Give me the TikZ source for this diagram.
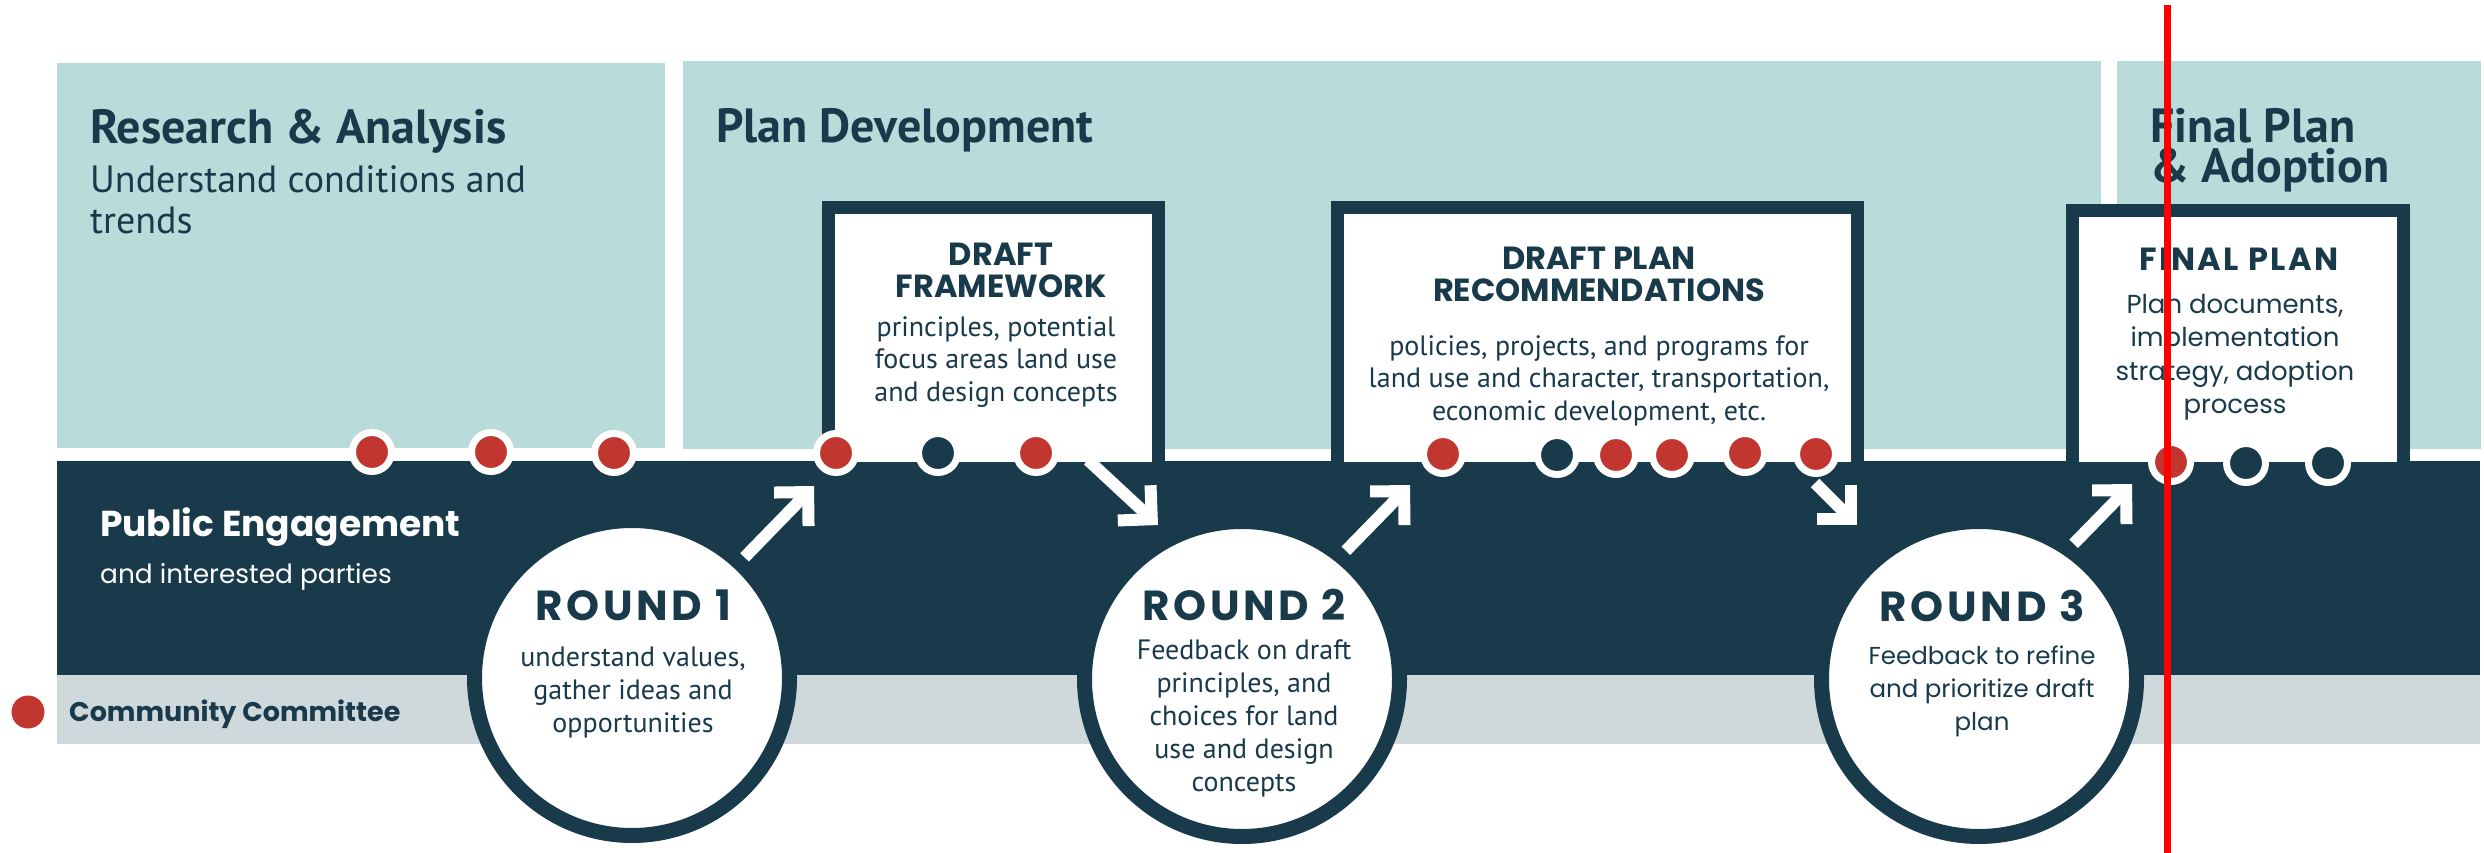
\documentclass[tikz,border=0pt]{standalone}
\usepackage{fontspec}
\setmainfont{PT Sans}
\newfontfamily\geofont{Poppins}
\usetikzlibrary{arrows.meta}
\definecolor{panelteal}{HTML}{B9DCDA}
\definecolor{inkblue}{HTML}{193A4A}
\definecolor{bandgrey}{HTML}{CFD8DB}
\definecolor{dotred}{HTML}{C1372F}
\tikzset{
  card/.style={draw=inkblue,line width=13pt,fill=white,anchor=north west,inner sep=0pt},
  reddot/.style={circle,fill=dotred,draw=white,line width=7pt,minimum size=39pt,inner sep=0pt},
  inkdot/.style={reddot,fill=inkblue},
  rounddisc/.style={circle,fill=white,draw=inkblue,line width=15pt,minimum size=315pt,inner sep=0pt},
  flow/.style={white,line width=12pt,-{Straight Barb[angle=90:34pt,sharp]}},
  label/.style={text=inkblue,inner sep=0pt,align=center},
  phasetitle/.style={label,anchor=north west,align=left,font=\bfseries\fontsize{48}{40}\selectfont},
  cardtitle/.style={label,anchor=north,font=\geofont\bfseries\fontsize{32}{32}\selectfont},
  cardtext/.style={label,anchor=north,font=\fontsize{28}{32.7}\selectfont},
  roundtitle/.style={label,anchor=base,font=\geofont\bfseries\fontsize{42}{42}\selectfont\addfontfeature{LetterSpace=9}},
}
\begin{document}
\begin{tikzpicture}[x=1pt,y=-1pt]
\useasboundingbox (0,0) rectangle (2484,853);
% phases
\fill[panelteal] (57,63) rectangle (665,448);
\fill[panelteal] (683,61) rectangle (2101,449);
\fill[panelteal] (2117,61) rectangle (2481,449);
% engagement band and committee strip
\fill[inkblue] (57,461) rectangle (2480,675);
\fill[bandgrey] (57,675) rectangle (2480,744);
% products
\node[card,minimum width=330pt,minimum height=261pt] (fw) at (822,201) {};
\node[card,minimum width=520pt,minimum height=261pt] (dp) at (1331,201) {};
\node[card,minimum width=331pt,minimum height=258pt] (fp) at (2066,204) {};
% rounds
\node[rounddisc] (r1) at (632,678) {};
\node[rounddisc] (r2) at (1242,679) {};
\node[rounddisc] (r3) at (1979,679) {};
% arrows
\coordinate (a1) at (814,486);
\coordinate (a2s) at (1088,460);
\coordinate (a2) at (1158,525);
\coordinate (a3) at (1410,485);
\coordinate (a4s) at (1815,483);
\coordinate (a4) at (1857,525);
\coordinate (a5) at (2132,484);
\draw[flow] (r1.47) -- (a1);
\draw[flow] (a2s) -- (a2);
\draw[flow] (r2.51) -- (a3);
\draw[flow] (a4s) -- (a4);
\draw[flow] (r3.55) -- (a5);
% meetings
\foreach \x/\y in {372/452,491/452,614/453,836/453,1036/453,1443/454,1616/455,1672/455,1745/453,1816/454,2171/462}
  \node[reddot] (d\x) at (\x,\y) {};
\foreach \x/\y in {938/453,1557/455,2246/463,2328/463}
  \node[inkdot] (d\x) at (\x,\y) {};
\node[reddot,draw=none,minimum size=33pt] (key) at (28,712) {};
% texts
\node[phasetitle] (ra) at (90,109) {Research \& Analysis};
\node[label,anchor=north west,align=left,font=\fontsize{38}{41}\selectfont] (rat) at (90,165) {Understand conditions and\\trends};
\node[phasetitle] (pd) at (716,108) {Plan Development};
\node[phasetitle] (fpa) at (2150,108) {Final Plan\\\& Adoption};
\node[label,text=white,anchor=base west,font=\geofont\bfseries\fontsize{36}{40}\selectfont] (pe) at (100,536) {Public Engagement};
\node[label,text=white,anchor=base west,font=\geofont\fontsize{26.4}{30}\selectfont] (pet) at (100,583) {and interested parties};
\node[label,anchor=base west,font=\geofont\bfseries\fontsize{27}{30}\selectfont] (cc) at (69,721) {Community Committee};
\node[cardtitle] (fwt) at (1001,243) {DRAFT\\FRAMEWORK};
\node[cardtext] (fwd) at (996,316) {principles, potential\\focus areas land use\\and design concepts};
\node[cardtitle] (dpt) at (1599,247) {DRAFT PLAN\\RECOMMENDATIONS};
\node[cardtext] (dpd) at (1599,335) {policies, projects, and programs for\\land use and character, transportation,\\economic development, etc.};
\node[cardtitle,font=\geofont\bfseries\fontsize{32}{32}\selectfont\addfontfeature{LetterSpace=8}] (fpt) at (2239,248) {FINAL PLAN};
\node[cardtext,font=\geofont\fontsize{26}{33.3}\selectfont] (fpd) at (2235,294) {Plan documents,\\implementation\\strategy, adoption\\process};
\node[roundtitle] (r1t) at (633,620) {ROUND 1};
\node[cardtext] (r1d) at (633,647) {understand values,\\gather ideas and\\opportunities};
\node[roundtitle] (r2t) at (1244,620) {ROUND 2};
\node[cardtext,font=\fontsize{28}{33}\selectfont] (r2d) at (1244,640) {Feedback on draft\\principles, and\\choices for land\\use and design\\concepts};
\node[roundtitle] (r3t) at (1982,621) {ROUND 3};
\node[cardtext,font=\geofont\fontsize{24.5}{33}\selectfont] (r3d) at (1982,646) {Feedback to refine\\and prioritize draft\\plan};
% marker
\draw[red,line width=7pt] (2167,5) -- (2167,853);
\end{tikzpicture}
\end{document}
